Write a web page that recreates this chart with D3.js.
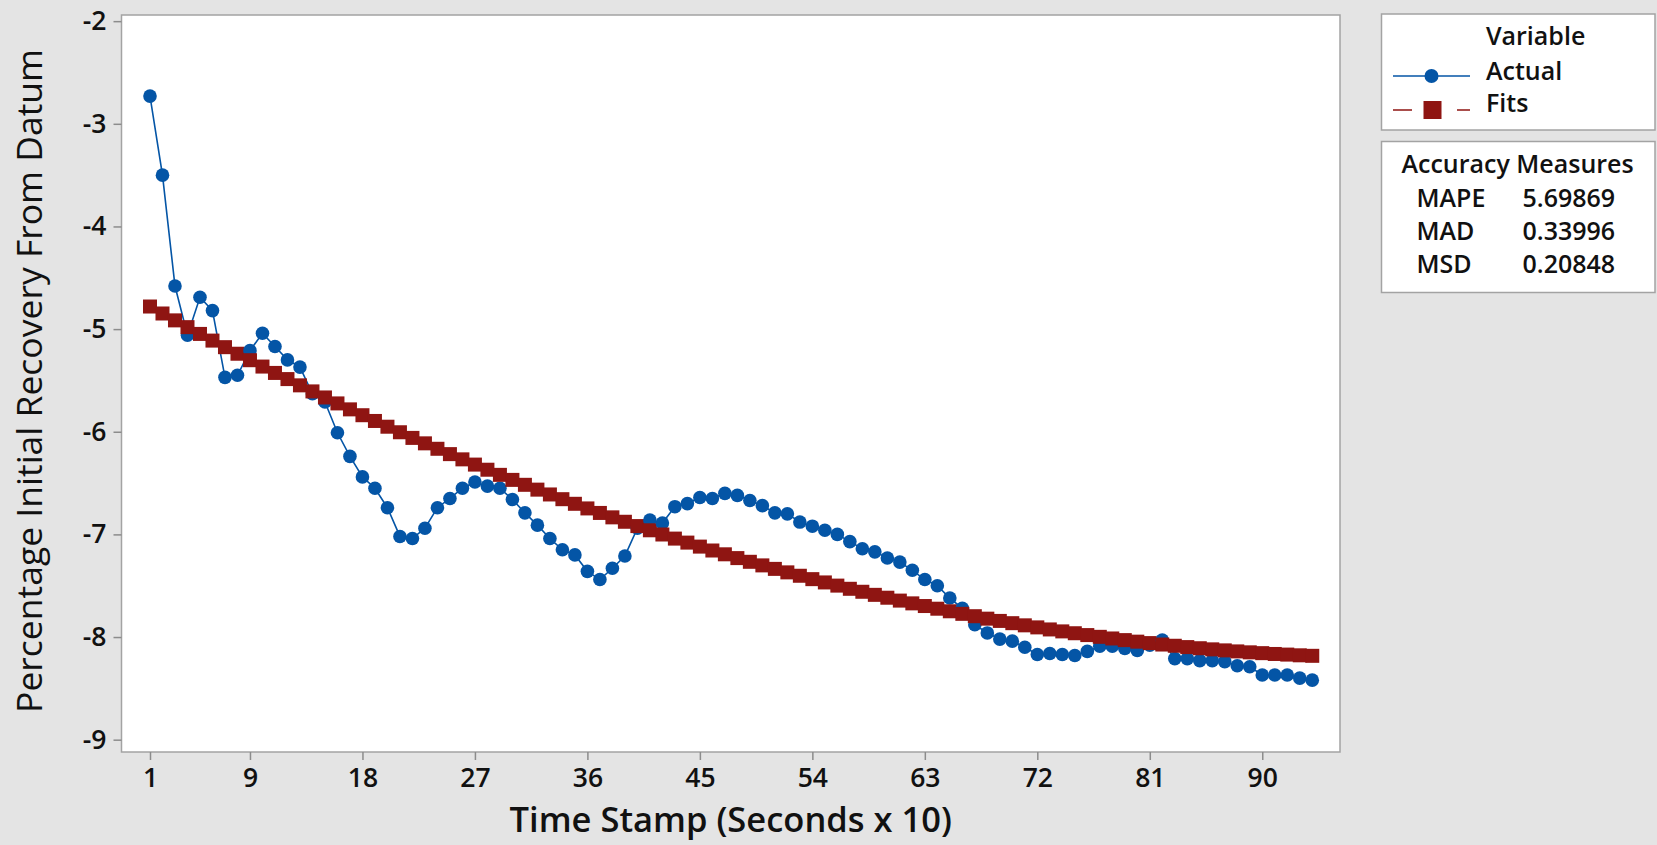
<!DOCTYPE html>
<html><head><meta charset="utf-8">
<script src="https://cdn.jsdelivr.net/npm/d3@7"></script>
<style>
body{margin:0;background:#e4e4e4;}
svg{display:block;font-family:"Open Sans",sans-serif;}
</style></head><body>
<svg id="c" width="1657" height="845"></svg>
<script>
// Actual series (time stamps 1..94)
const actual = [-2.73,-3.50,-4.58,-5.06,-4.69,-4.82,-5.47,-5.45,-5.21,-5.04,
  -5.17,-5.30,-5.37,-5.63,-5.71,-6.01,-6.24,-6.44,-6.55,-6.74,
  -7.02,-7.04,-6.94,-6.74,-6.65,-6.55,-6.49,-6.53,-6.55,-6.66,
  -6.79,-6.91,-7.04,-7.15,-7.20,-7.36,-7.44,-7.33,-7.21,-6.94,
  -6.86,-6.89,-6.73,-6.70,-6.64,-6.65,-6.60,-6.62,-6.67,-6.72,
  -6.79,-6.80,-6.88,-6.92,-6.96,-7.00,-7.07,-7.14,-7.17,-7.23,
  -7.27,-7.35,-7.44,-7.50,-7.62,-7.72,-7.88,-7.96,-8.02,-8.04,
  -8.10,-8.17,-8.16,-8.17,-8.18,-8.14,-8.09,-8.09,-8.11,-8.13,
  -8.08,-8.03,-8.21,-8.21,-8.23,-8.23,-8.24,-8.28,-8.29,-8.37,
  -8.37,-8.37,-8.40,-8.42];
// Fits series (trend)
const fits = [-4.780,-4.848,-4.915,-4.981,-5.047,-5.112,-5.176,-5.240,-5.303,-5.365,
  -5.427,-5.487,-5.548,-5.607,-5.666,-5.724,-5.782,-5.839,-5.895,-5.951,
  -6.005,-6.060,-6.113,-6.166,-6.218,-6.269,-6.320,-6.370,-6.420,-6.469,
  -6.517,-6.564,-6.611,-6.657,-6.702,-6.747,-6.791,-6.834,-6.877,-6.919,
  -6.960,-7.001,-7.041,-7.080,-7.119,-7.157,-7.194,-7.231,-7.267,-7.302,
  -7.336,-7.370,-7.403,-7.436,-7.468,-7.499,-7.530,-7.559,-7.589,-7.617,
  -7.645,-7.672,-7.698,-7.724,-7.749,-7.774,-7.797,-7.821,-7.843,-7.865,
  -7.886,-7.906,-7.926,-7.945,-7.963,-7.981,-7.998,-8.014,-8.030,-8.045,
  -8.059,-8.073,-8.085,-8.098,-8.109,-8.120,-8.130,-8.140,-8.149,-8.157,
  -8.165,-8.171,-8.178,-8.183];
const xTicks = [1,9,18,27,36,45,54,63,72,81,90];
const yTicks = [-2,-3,-4,-5,-6,-7,-8,-9];
const legendTitle = "Variable";
const legendLabels = ["Actual","Fits"];
const accuracyTitle = "Accuracy Measures";
const accuracyLabels = ["MAPE","MAD","MSD"];
const accuracyValues = ["5.69869","0.33996","0.20848"];
const xTitle = "Time Stamp (Seconds x 10)";
const yTitle = "Percentage Initial Recovery From Datum";

const blue = "#0455a6", red = "#8f1512", frameCol = "#a3a3a3", tickCol = "#8c8c8c";
const L = 121.5, R = 1340, T = 15, B = 752;
const svg = d3.select("#c");
const x = d3.scaleLinear().domain([-1.28, 96.22]).range([L, R]);
const y = d3.scaleLinear().domain([-9.12, -1.94]).range([B, T]);

svg.append("rect").attr("width",1657).attr("height",845).attr("fill","#e4e4e4");
svg.append("rect").attr("x",L).attr("y",T).attr("width",R-L).attr("height",B-T)
  .attr("fill","#fff").attr("stroke",frameCol).attr("stroke-width",1.5);

// axes
const yAx = svg.append("g").attr("transform",`translate(${L},0)`)
  .call(d3.axisLeft(y).tickValues(yTicks).tickSize(8).tickPadding(7).tickFormat(d=>String(d)));
const xAx = svg.append("g").attr("transform",`translate(0,${B})`)
  .call(d3.axisBottom(x).tickValues(xTicks).tickSize(8).tickPadding(8).tickFormat(d=>String(d)));
[yAx,xAx].forEach(a=>{
  a.select(".domain").remove();
  a.selectAll(".tick line").attr("stroke",tickCol).attr("stroke-width",1.5);
  a.selectAll(".tick text").attr("font-family","Open Sans").attr("font-size",26.5)
    .attr("font-weight",600).attr("fill","#111");
});

svg.append("text").attr("x",(L+R)/2).attr("y",832).attr("text-anchor","middle")
  .attr("font-size",34.5).attr("font-weight",600).attr("fill","#111").text(xTitle);
svg.append("text").attr("transform","translate(42,381) rotate(-90)").attr("text-anchor","middle")
  .attr("font-size",35.5).attr("font-weight",400).attr("fill","#111").text(yTitle);

// lines
const rows = actual.map((v,i)=>({t:i+1,a:v,f:fits[i]}));
const plot = svg.append("g");
plot.append("path").datum(rows).attr("fill","none").attr("stroke",blue).attr("stroke-width",1.6)
  .attr("d",d3.line().x(d=>x(d.t)).y(d=>y(d.a)));
plot.append("path").datum(rows).attr("fill","none").attr("stroke",red).attr("stroke-width",1.6)
  .attr("stroke-dasharray","10,8").attr("d",d3.line().x(d=>x(d.t)).y(d=>y(d.f)));
const S = 14;
const pts = plot.selectAll("g.pt").data(rows).join("g").attr("class","pt");
pts.append("circle").attr("cx",d=>x(d.t)).attr("cy",d=>y(d.a)).attr("r",6.8).attr("fill",blue);
pts.append("rect").attr("x",d=>x(d.t)-S/2).attr("y",d=>y(d.f)-S/2).attr("width",S).attr("height",S).attr("fill",red);

// legend
const lg = svg.append("g").attr("font-size",25).attr("font-weight",600).attr("fill","#111");
lg.append("rect").attr("x",1381.5).attr("y",14).attr("width",273.5).attr("height",116)
  .attr("fill","#fff").attr("stroke",frameCol).attr("stroke-width",1.5);
lg.append("text").attr("x",1486).attr("y",45).text(legendTitle);
lg.append("line").attr("x1",1393).attr("x2",1470).attr("y1",76).attr("y2",76).attr("stroke",blue).attr("stroke-width",1.6);
lg.append("circle").attr("cx",1431.5).attr("cy",76).attr("r",7).attr("fill",blue);
lg.append("line").attr("x1",1393).attr("x2",1470).attr("y1",110).attr("y2",110).attr("stroke",red)
  .attr("stroke-width",1.6).attr("stroke-dasharray","19,45");
lg.append("rect").attr("x",1423.5).attr("y",101).attr("width",18).attr("height",18).attr("fill",red);
legendLabels.forEach((t,i)=>lg.append("text").attr("x",1486).attr("y",[80,111.5][i]).text(t));

lg.append("rect").attr("x",1381.5).attr("y",141.5).attr("width",273.5).attr("height",151)
  .attr("fill","#fff").attr("stroke",frameCol).attr("stroke-width",1.5);
lg.append("text").attr("x",1401.5).attr("y",173).text(accuracyTitle);
accuracyLabels.forEach((t,i)=>{
  const by = [206.5,240,272.5][i];
  lg.append("text").attr("x",1416.5).attr("y",by).text(t);
  lg.append("text").attr("x",1522.5).attr("y",by).text(accuracyValues[i]);
});
</script>
</body></html>
